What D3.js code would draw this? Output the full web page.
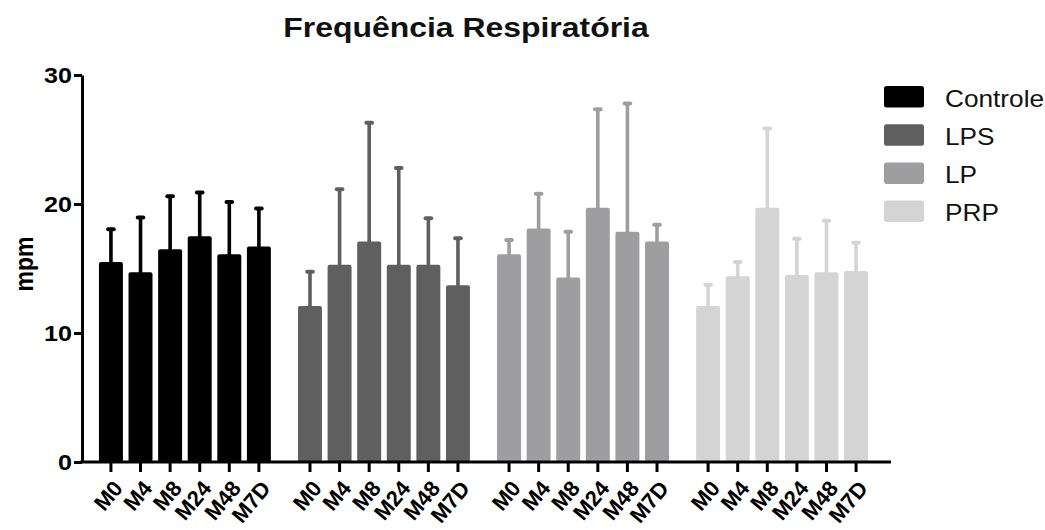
<!DOCTYPE html>
<html>
<head>
<meta charset="utf-8">
<script src="https://cdn.jsdelivr.net/npm/d3@7"></script>
<style>
  html, body { margin: 0; padding: 0; background: #fff; }
  svg { display: block; font-family: "Liberation Sans", Arial, sans-serif; }
</style>
</head>
<body>
<svg id="chart" width="1045" height="530"></svg>
<script>
// Respiratory rate (mpm): mean and SD per group and time point
const groups = ["Controle", "LPS", "LP", "PRP"];
const times = ["M0", "M4", "M8", "M24", "M48", "M7D"];
const yTicks = [0, 10, 20, 30];

const controleMean = [15.5, 14.7, 16.5, 17.5, 16.1, 16.7];
const controleSD   = [2.55, 4.25, 4.1, 3.4, 4.05, 2.95];
const lpsMean = [12.1, 15.3, 17.1, 15.3, 15.3, 13.7];
const lpsSD   = [2.65, 5.85, 9.2, 7.5, 3.6, 3.65];
const lpMean = [16.1, 18.1, 14.3, 19.7, 17.85, 17.1];
const lpSD   = [1.1, 2.7, 3.55, 7.65, 9.95, 1.3];
const prpMean = [12.1, 14.4, 19.7, 14.5, 14.7, 14.8];
const prpSD   = [1.65, 1.1, 6.15, 2.8, 4.0, 2.2];

const colors = ["#000000", "#5f5f5f", "#9e9ea1", "#d4d4d4"];

const means = [controleMean, lpsMean, lpMean, prpMean];
const sds = [controleSD, lpsSD, lpSD, prpSD];

const rows = [];
groups.forEach((g, gi) => {
  times.forEach((t, ti) => {
    rows.push({ group: g, time: t, mean: means[gi][ti], sd: sds[gi][ti], color: colors[gi] });
  });
});

const svg = d3.select("#chart");
const stretch = 1.14; // glyphs are drawn slightly wide

const axisX = 82, axisBottom = 462, axisTop = 75, axisRight = 891;

const y = d3.scaleLinear().domain([0, 30]).range([axisBottom, axisTop]);

const xOuter = d3.scaleBand()
  .domain(groups)
  .range([axisX, 885])
  .paddingInner(0.108)
  .paddingOuter(0.071);

const xInner = d3.scaleBand()
  .domain(times)
  .range([0, xOuter.bandwidth()])
  .paddingInner(0.19)
  .paddingOuter(0.095);

const barX = d => xOuter(d.group) + xInner(d.time);
const barC = d => barX(d) + xInner.bandwidth() / 2;

// Title
svg.append("text")
  .attr("transform", `translate(466,37) scale(${stretch},1)`)
  .attr("text-anchor", "middle")
  .attr("font-size", 28)
  .attr("font-weight", "bold")
  .attr("fill", "#111")
  .text("Frequência Respiratória");

// Error bars (drawn before bars so the stem hides inside each bar)
const err = svg.append("g").attr("class", "errors");
err.selectAll("line.stem")
  .data(rows)
  .join("line")
  .attr("class", "stem")
  .attr("x1", barC).attr("x2", barC)
  .attr("y1", d => y(d.mean) + 2)
  .attr("y2", d => y(d.mean + d.sd))
  .attr("stroke", d => d.color)
  .attr("stroke-width", 3.6);
err.selectAll("rect.cap")
  .data(rows)
  .join("rect")
  .attr("class", "cap")
  .attr("x", d => barC(d) - 4.8)
  .attr("y", d => y(d.mean + d.sd) - 2)
  .attr("width", 9.6)
  .attr("height", 4)
  .attr("rx", 2)
  .attr("fill", d => d.color);

// Bars
svg.append("g").attr("class", "bars")
  .selectAll("rect")
  .data(rows)
  .join("rect")
  .attr("x", barX)
  .attr("y", d => y(d.mean))
  .attr("width", xInner.bandwidth())
  .attr("height", d => y(0) - y(d.mean))
  .attr("rx", 2)
  .attr("fill", d => d.color);

// Y axis
const yAxis = svg.append("g")
  .attr("transform", `translate(${axisX},0)`)
  .call(d3.axisLeft(y).tickValues(yTicks).tickSize(8).tickSizeOuter(0).tickPadding(2));
yAxis.select(".domain").attr("stroke", "#000").attr("stroke-width", 3);
yAxis.selectAll(".tick line").attr("stroke", "#000").attr("stroke-width", 3);
yAxis.selectAll(".tick text")
  .attr("font-family", "'Liberation Sans', Arial, sans-serif")
  .attr("font-size", 22)
  .attr("font-weight", "bold")
  .attr("fill", "#000")
  .attr("dy", "0.36em")
  .attr("transform", function () {
    const xx = +d3.select(this).attr("x");
    return `translate(${xx * (1 - stretch)},0) scale(${stretch},1)`;
  });

// X axis baseline
svg.append("line")
  .attr("x1", axisX - 1.5).attr("x2", axisRight)
  .attr("y1", axisBottom).attr("y2", axisBottom)
  .attr("stroke", "#000").attr("stroke-width", 3);

// X ticks and labels per group
groups.forEach(g => {
  const ax = svg.append("g")
    .attr("transform", `translate(${xOuter(g)},${axisBottom})`)
    .call(d3.axisBottom(xInner).tickSize(10).tickSizeOuter(0));
  ax.select(".domain").remove();
  ax.selectAll(".tick line").attr("stroke", "#000").attr("stroke-width", 3);
  ax.selectAll(".tick text")
    .attr("font-family", "'Liberation Sans', Arial, sans-serif")
    .attr("font-size", 22)
    .attr("font-weight", "bold")
    .attr("fill", "#000")
    .attr("text-anchor", "end")
    .attr("y", 0)
    .attr("dy", "0.35em")
    .attr("transform", `translate(7,22) rotate(-50)`);
});

// Y axis label
svg.append("text")
  .attr("transform", `translate(24,264) scale(${stretch},1) rotate(-90)`)
  .attr("text-anchor", "middle")
  .attr("dy", "0.35em")
  .attr("font-size", 23)
  .attr("font-weight", "bold")
  .attr("fill", "#000")
  .text("mpm");

// Legend
const legend = svg.append("g").attr("transform", "translate(884,86)");
const item = legend.selectAll("g")
  .data(groups)
  .join("g")
  .attr("transform", (d, i) => `translate(0,${i * 38.2})`);
item.append("rect")
  .attr("width", 40).attr("height", 21.5).attr("rx", 2.5)
  .attr("fill", (d, i) => colors[i]);
item.append("text")
  .attr("transform", `translate(61,20.5) scale(${stretch},1)`)
  .attr("font-size", 23)
  .attr("fill", "#111")
  .text(d => d);
</script>
</body>
</html>
